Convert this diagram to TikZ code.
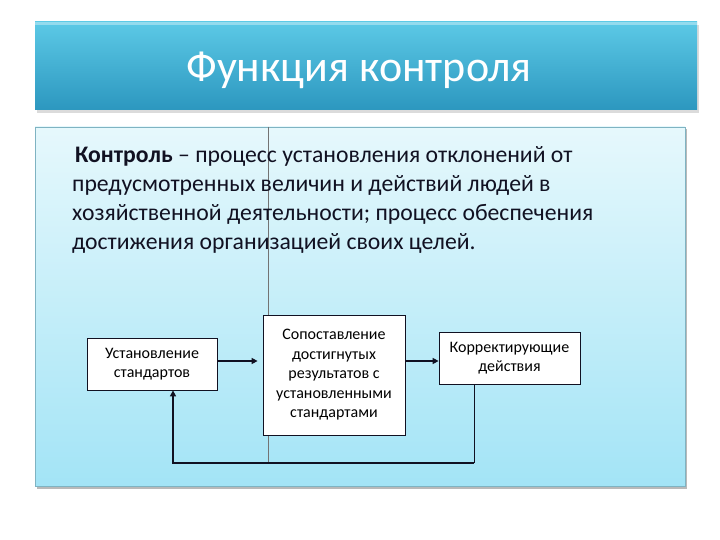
\documentclass[tikz,border=0pt]{standalone}
\usepackage{fontspec}
\setmainfont{Carlito}
\usetikzlibrary{arrows.meta,shadows}
\definecolor{ttop}{HTML}{5CC9E6}
\definecolor{tbot}{HTML}{2C97BF}
\definecolor{ptop}{HTML}{E6F8FC}
\definecolor{pbot}{HTML}{A3E4F6}
\definecolor{pborder}{HTML}{7FB3C2}
\definecolor{ink}{HTML}{111122}
\tikzset{
  flowbox/.style={draw=ink, fill=white, line width=0.8pt, align=center, inner sep=0pt,
    font=\fontsize{16}{19.5}\selectfont},
  thick conn/.style={draw=ink, line width=2pt},
  thin conn/.style={draw=ink, line width=0.9pt},
}
\begin{document}
\begin{tikzpicture}[x=1pt,y=-1pt]
\useasboundingbox (0,0) rectangle (720,540);
% title bar
\fill[black!40, opacity=0.35] (37,25) rectangle (699,113);
\shade[top color=ttop, bottom color=tbot] (35,22) rectangle (697,110);
\fill[white, opacity=0.35] (35,22) rectangle (697,25);
\node[text=white, font=\fontsize{44}{48}\selectfont] (title) at (359,70) {Функция контроля};
% panel
\fill[black!50, opacity=0.55] (37,129) rectangle (687,489);
\shade[top color=ptop, bottom color=pbot] (35,127) rectangle (685,486);
\draw[pborder, line width=0.6pt] (35,127) rectangle (685,486);
% vertical guide line
\draw[black!55, line width=0.5pt] (268,127) -- (268,463);
% definition text
\node[anchor=north west, align=left, inner sep=0pt, text=ink,
      font=\fontsize{23.7}{29}\selectfont] (def) at (72,146.5)
{\hspace*{3pt}\textbf{Контроль} – процесс установления отклонений от\\
предусмотренных величин и действий людей в\\
хозяйственной деятельности; процесс обеспечения\\
достижения организацией своих целей.};
% boxes
\node[flowbox, minimum width=130, minimum height=52] (b1) at (152,364) {Установление\\стандартов};
\node[flowbox, minimum width=142, minimum height=120] (b2) at (334,375) {Сопоставление\\достигнутых\\результатов с\\установленными\\стандартами};
\node[flowbox, minimum width=141, minimum height=52] (b3) at (509.5,358) {Корректирующие\\действия};
\coordinate (c1) at (474,463);
\coordinate (c2) at (173,463);
% connectors
\draw[thick conn, -{Triangle[length=6pt,width=6pt]}] ([xshift=1pt]b1.east |- 0,361) -- ([xshift=-5pt]b2.west |- 0,361);
\draw[thick conn, -{Triangle[length=6pt,width=6pt]}] (b2.east |- 0,361) -- (b3.west |- 0,361);
\draw[thin conn] (b3.south -| c1) -- (c1);
\draw[thick conn, -{Triangle[length=6pt,width=6pt]}] (c1) -- (c2) -- (c2 |- b1.south);
\end{tikzpicture}
\end{document}
